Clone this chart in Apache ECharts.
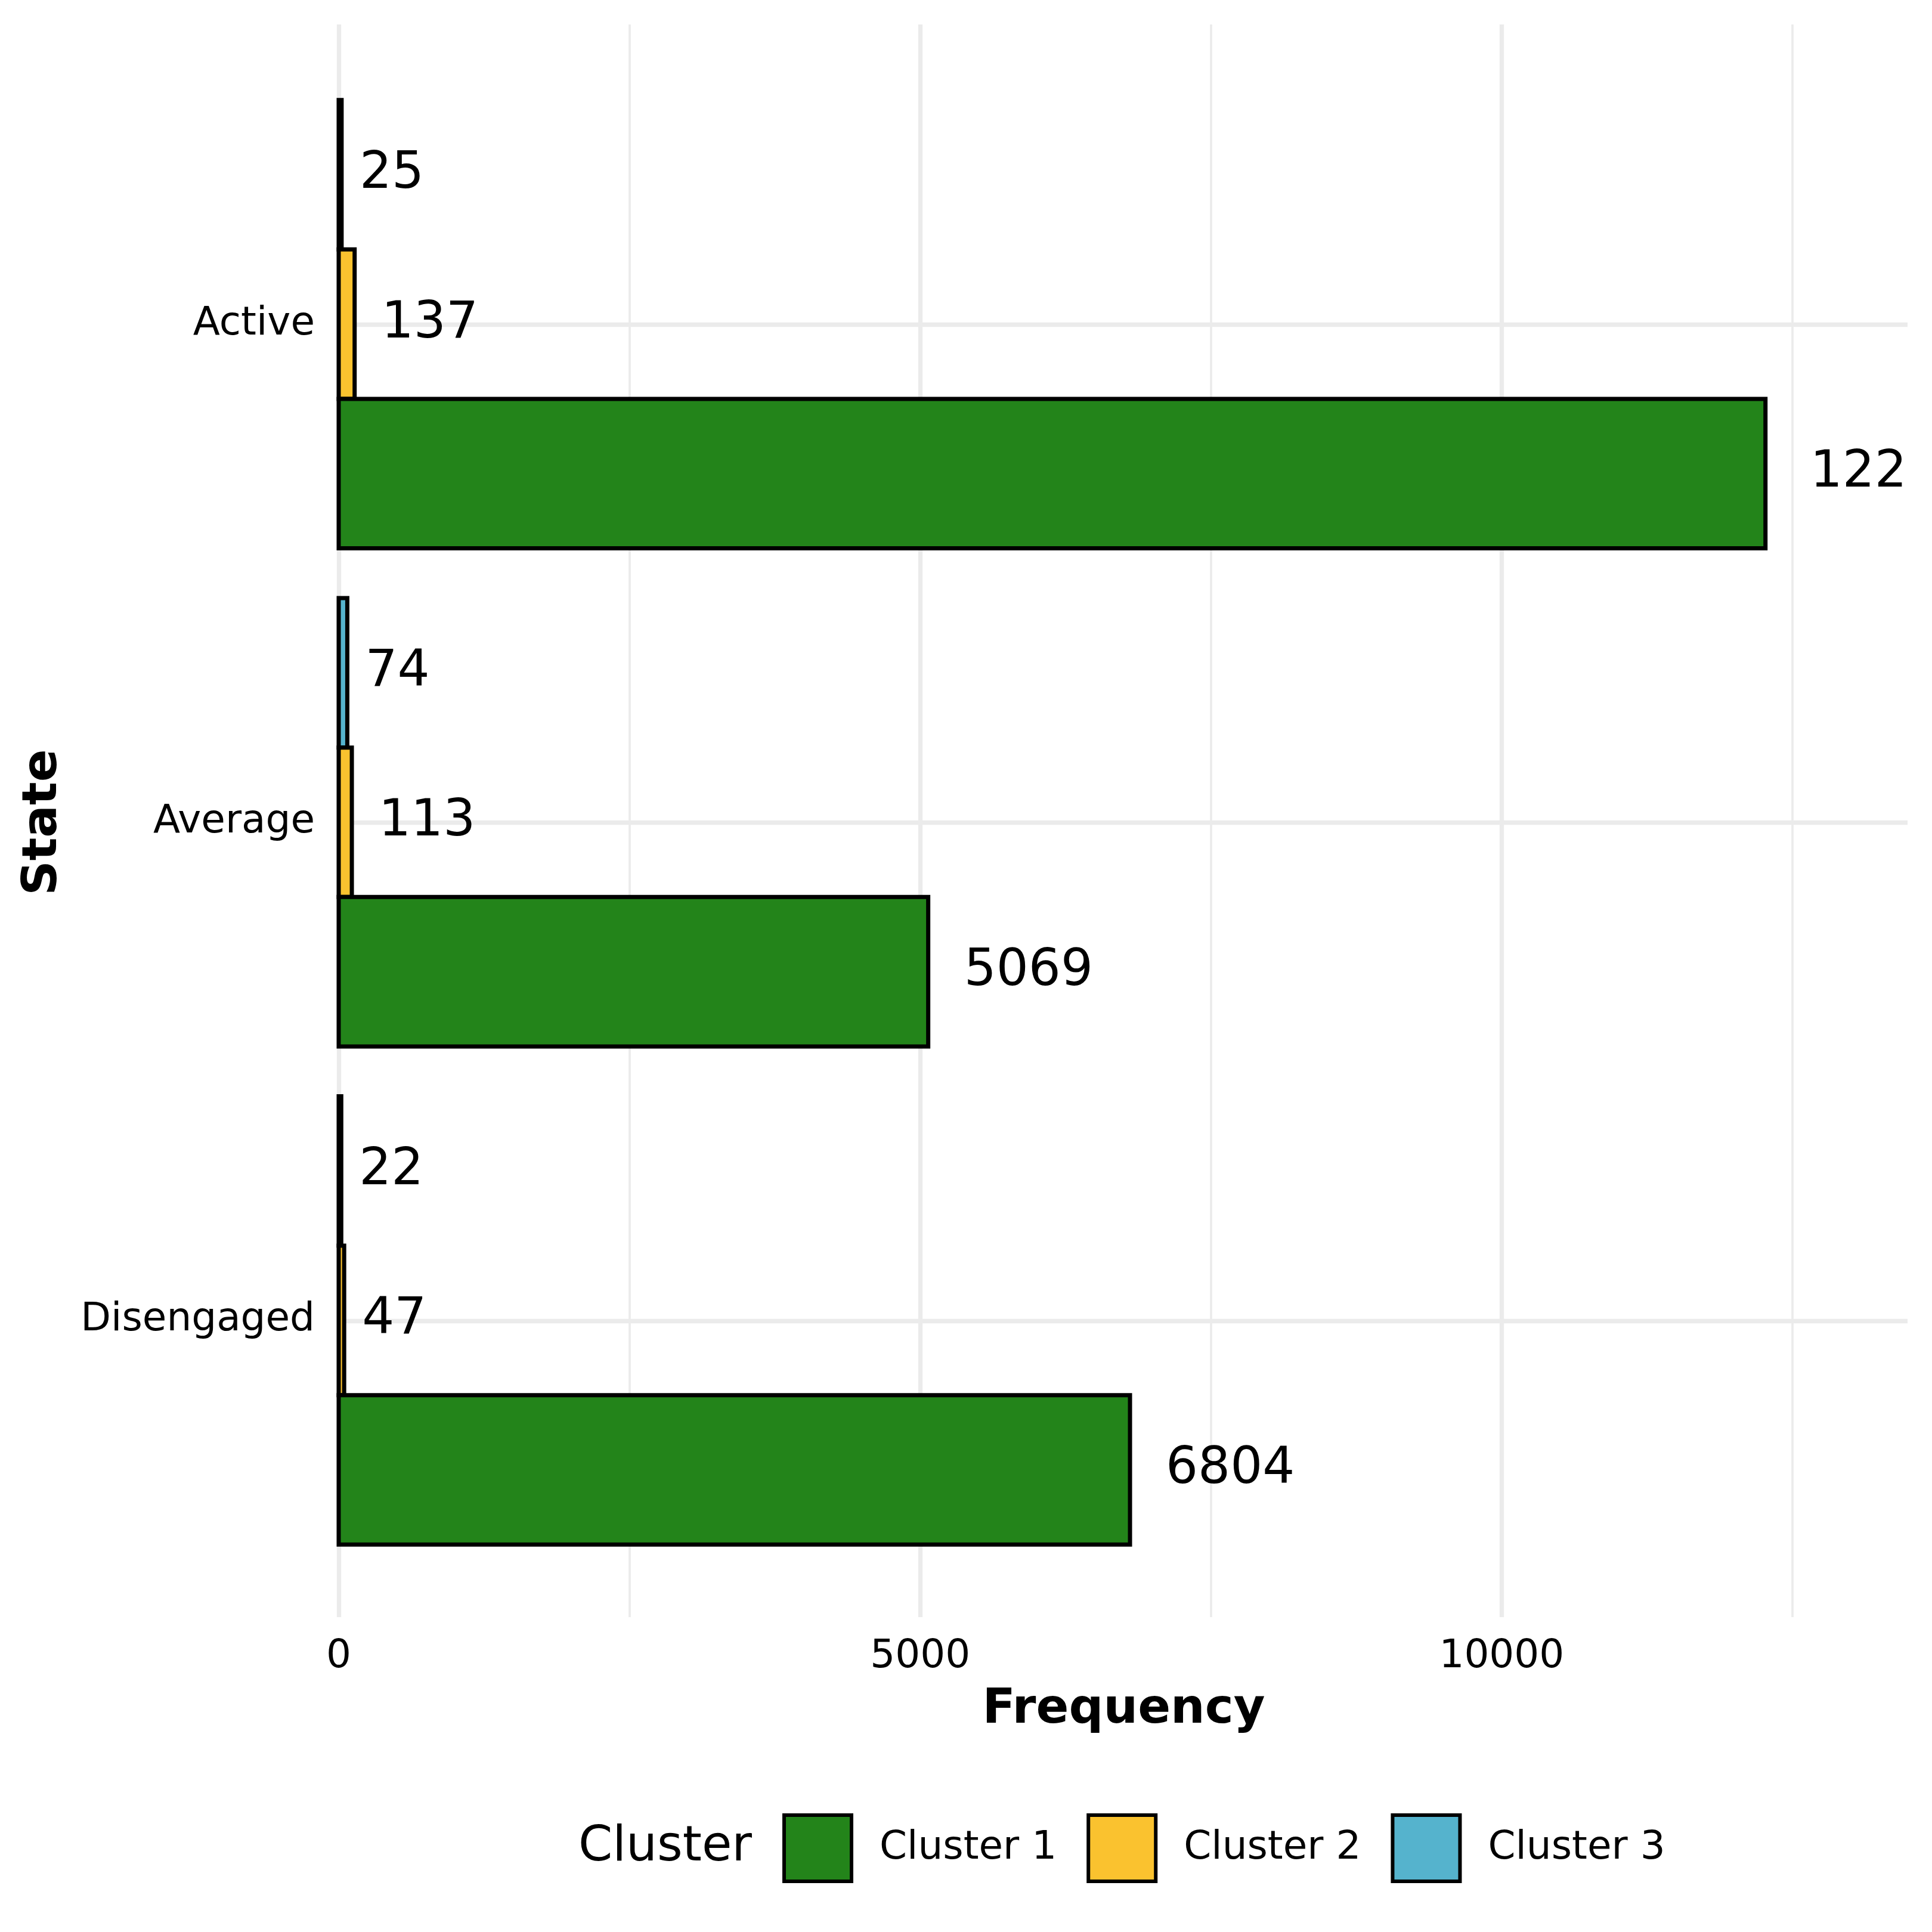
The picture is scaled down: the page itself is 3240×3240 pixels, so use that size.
<!DOCTYPE html>
<html>
<head>
<meta charset="utf-8">
<script src="https://cdn.jsdelivr.net/npm/echarts@6/dist/echarts.min.js"></script>
<style>
  html, body { margin: 0; padding: 0; background: #ffffff; }
  #chart { position: absolute; left: 0; top: 0; width: 3199px; height: 3240px; overflow: hidden; }
</style>
</head>
<body>
<div id="chart"></div>
<script>
// ---- data ----
const states = ['Disengaged', 'Average', 'Active'];   // bottom -> top
const clusterNames = ['Cluster 1', 'Cluster 2', 'Cluster 3'];
const cluster1 = [6804, 5069, 12268];
const cluster2 = [47, 113, 137];
const cluster3 = [22, 74, 25];
const xTicks = [0, 5000, 10000];
const xMax = 13500;

const colors = { 'Cluster 1': '#23841A', 'Cluster 2': '#FAC22F', 'Cluster 3': '#55B3CD' };
const FONT = 'DejaVu Sans';

// within each state: Cluster 3 on top, then Cluster 2, then Cluster 1 (slot index from top)
const layers = [
  ['Cluster 3', cluster3, 0],
  ['Cluster 2', cluster2, 1],
  ['Cluster 1', cluster1, 2]
];
const nSlots = 3;
const groupWidth = 0.9;

function makeRender(name, slot) {
  return function (params, api) {
    const v = api.value(0);
    const cat = api.value(1);
    const p0 = api.coord([0, cat]);
    const p1 = api.coord([v, cat]);
    const band = api.size([0, 1])[1];
    const barH = band * groupWidth / nSlots;
    const top = p0[1] - band * groupWidth / 2 + slot * barH;
    const txt = String(v);
    return {
      type: 'group',
      children: [
        {
          type: 'rect',
          shape: { x: p0[0], y: top, width: p1[0] - p0[0], height: barH },
          style: { fill: colors[name], stroke: '#000', lineWidth: 7 }
        },
        {
          type: 'text',
          x: p1[0] + txt.length * 15,
          y: top + barH / 2,
          style: {
            text: txt, fontFamily: FONT, fontSize: 85, fill: '#000',
            align: 'left', verticalAlign: 'middle'
          },
          z2: 10
        }
      ]
    };
  };
}

const series = layers.map(([name, vals, slot]) => ({
  name: name,
  type: 'custom',
  coordinateSystem: 'cartesian2d',
  xAxisIndex: 0,
  yAxisIndex: 0,
  encode: { x: 0, y: 1 },
  data: vals.map((v, i) => [v, i]),
  itemStyle: { color: colors[name] },
  renderItem: makeRender(name, slot),
  clip: false,
  z: 5
}));

const chart = echarts.init(document.getElementById('chart'), null, { renderer: 'canvas' });
chart.setOption({
  backgroundColor: '#ffffff',
  animation: false,
  textStyle: { fontFamily: FONT },
  grid: [
    { left: 568, width: 2633, top: 126, height: 2506, outerBoundsMode: 'none', containLabel: false },
    { left: 568, width: 2633, top: 41, height: 2671, outerBoundsMode: 'none', containLabel: false },
    { left: 568, width: 2633, top: 544, height: 1671, outerBoundsMode: 'none', containLabel: false }
  ],
  xAxis: [
    { gridIndex: 0, type: 'value', min: 0, max: xMax, show: false },
    {
      gridIndex: 1, type: 'value', min: 0, max: xMax, interval: 5000,
      axisLine: { show: false }, axisTick: { show: false },
      axisLabel: {
        show: true, fontFamily: FONT, fontSize: 66, color: '#000', margin: 34,
        showMaxLabel: false,
        formatter: v => (xTicks.indexOf(v) >= 0 ? String(v) : '')
      },
      splitLine: { show: true, showMaxLine: false, lineStyle: { color: '#EBEBEB', width: 7.3 } },
      minorTick: { show: false, splitNumber: 2 },
      minorSplitLine: { show: true, lineStyle: { color: '#EBEBEB', width: 3.7 } },
      name: 'Frequency', nameLocation: 'middle', nameGap: 115,
      nameTextStyle: { fontFamily: FONT, fontSize: 81, fontWeight: 'bold', color: '#000' }
    },
    { gridIndex: 2, type: 'value', min: 0, max: xMax, show: false }
  ],
  yAxis: [
    {
      gridIndex: 0, type: 'category', data: states, boundaryGap: true,
      axisLine: { show: false }, axisTick: { show: false }, splitLine: { show: false },
      axisLabel: { fontFamily: FONT, fontSize: 66, color: '#000', margin: 40 },
      name: 'State', nameLocation: 'middle', nameRotate: 90, nameGap: 455,
      nameTextStyle: { fontFamily: FONT, fontSize: 81, fontWeight: 'bold', color: '#000' }
    },
    { gridIndex: 1, type: 'value', min: 0, max: 1, show: false },
    {
      gridIndex: 2, type: 'category', data: states, boundaryGap: false,
      axisLine: { show: false }, axisTick: { show: false }, axisLabel: { show: false },
      splitLine: { show: true, interval: 0, lineStyle: { color: '#EBEBEB', width: 7.3 } }
    }
  ],
  legend: {
    data: clusterNames,
    orient: 'horizontal',
    left: 1312, top: 3041,
    padding: 0,
    itemWidth: 113, itemHeight: 111, itemGap: 50,
    icon: 'rect',
    itemStyle: { borderColor: '#000', borderWidth: 6 },
    textStyle: { fontFamily: FONT, fontSize: 66, color: '#000', padding: [0, 0, 0, 42] }
  },
  graphic: [
    {
      type: 'text', left: 970, top: 3096 - 38,
      style: { text: 'Cluster', fontFamily: FONT, fontSize: 82, fill: '#000' }
    }
  ],
  series: series
});
</script>
</body>
</html>
